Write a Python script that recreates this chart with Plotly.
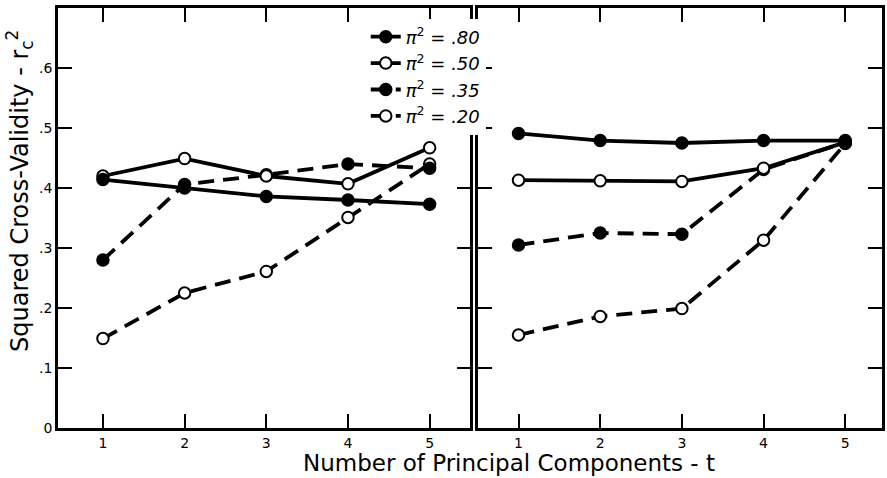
import plotly.graph_objects as go

# ---- data ----
t = [1, 2, 3, 4, 5]
x_tick_labels = ["1", "2", "3", "4", "5"]
y_tick_vals = [0, 0.1, 0.2, 0.3, 0.4, 0.5, 0.6]
y_tick_labels = ["0", ".1", ".2", ".3", ".4", ".5", ".6"]

series_labels = [".80", ".50", ".35", ".20"]

left_80 = [0.414, 0.400, 0.386, 0.380, 0.373]
left_50 = [0.420, 0.449, 0.420, 0.407, 0.467]
left_35 = [0.280, 0.406, 0.422, 0.440, 0.433]
left_20 = [0.149, 0.225, 0.261, 0.351, 0.440]

right_80 = [0.491, 0.479, 0.475, 0.479, 0.479]
right_50 = [0.413, 0.412, 0.411, 0.433, 0.476]
right_35 = [0.305, 0.325, 0.323, 0.431, 0.476]
right_20 = [0.155, 0.186, 0.199, 0.313, 0.474]

FONT = "DejaVu Sans"

styles = {
    ".80": dict(dash="solid", fill="black", rank=1),
    ".50": dict(dash="solid", fill="white", rank=2),
    ".35": dict(dash="16px,9px", fill="black", rank=3),
    ".20": dict(dash="16px,9px", fill="white", rank=4),
}

left = {".80": left_80, ".50": left_50, ".35": left_35, ".20": left_20}
right = {".80": right_80, ".50": right_50, ".35": right_35, ".20": right_20}

fig = go.Figure()

# draw order: .20 first so filled solid lines sit on top
for lab in [".20", ".35", ".50", ".80"]:
    st = styles[lab]
    name = "<i>π</i><sup>2</sup><i>\u00a0=\u00a0%s</i>" % lab
    for panel, data, xa, ya in [("L", left, "x", "y"), ("R", right, "x2", "y2")]:
        fig.add_trace(go.Scatter(
            x=t, y=data[lab], xaxis=xa, yaxis=ya,
            mode="lines+markers",
            name=name,
            legendrank=st["rank"],
            showlegend=(panel == "L"),
            line=dict(color="black", width=3.8, dash=st["dash"]),
            marker=dict(symbol="circle", size=11.5, color=st["fill"],
                        line=dict(color="black", width=2)),
        ))

axis_common = dict(
    showline=True, linecolor="black", linewidth=2.5, mirror="ticks",
    ticks="inside", ticklen=14, tickwidth=2, tickcolor="black",
    showgrid=False, zeroline=False,
    tickfont=dict(family=FONT, size=14, color="black"),
)

fig.update_layout(
    width=887, height=478,
    margin=dict(l=58, r=2, t=8, b=50),
    paper_bgcolor="white", plot_bgcolor="white",
    font=dict(family=FONT, color="black"),
    xaxis=dict(domain=[0, 0.5006], range=[0.45, 5.5], tickvals=t,
               ticktext=x_tick_labels, anchor="y", **axis_common),
    xaxis2=dict(domain=[0.5103, 1], range=[0.51, 5.45], tickvals=t,
                ticktext=x_tick_labels, anchor="y2", **axis_common),
    yaxis=dict(range=[0, 0.70], tickvals=y_tick_vals, ticktext=y_tick_labels,
               anchor="x", **axis_common),
    yaxis2=dict(range=[0, 0.70], tickvals=y_tick_vals, ticktext=y_tick_labels,
                showticklabels=False, anchor="x2", **axis_common),
    legend=dict(x=0.3735, y=0.975, xanchor="left", yanchor="top",
                bgcolor="white", font=dict(family=FONT, size=18),
                traceorder="normal", tracegroupgap=0),
    showlegend=True,
    annotations=[
        dict(text="Number of Principal Components - t", xref="paper", yref="paper",
             x=0.547, y=-0.083, xanchor="center", yanchor="middle", showarrow=False,
             font=dict(family=FONT, size=23)),
        dict(text="Squared Cross-Validity - r<sub>c</sub><sup>2</sup>", xref="paper",
             yref="paper", x=-0.047, y=0.565, xanchor="center", yanchor="middle",
             textangle=-90, showarrow=False, font=dict(family=FONT, size=24)),
    ],
)

fig.write_html("out.html", config={"displayModeBar": False},
               post_script="document.body.style.margin='0';")
